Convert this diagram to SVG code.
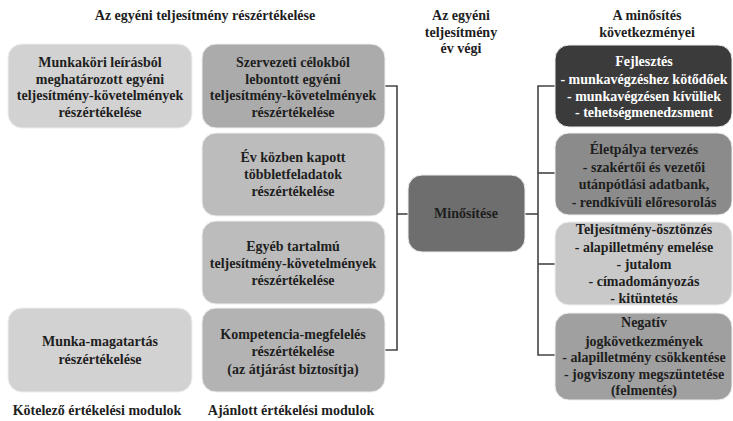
<svg xmlns="http://www.w3.org/2000/svg" width="733" height="421" viewBox="0 0 733 421">
<style>
text{font-family:"Liberation Serif","Times New Roman",serif;font-weight:bold;font-size:14px;text-anchor:middle;fill:#1e1e1e}
.w{fill:#ffffff}
.box{stroke:#efefef;stroke-width:1}
.conn{fill:none;stroke:#444;stroke-width:1.6}
</style>
<rect width="733" height="421" fill="#ffffff"/>
<g id="headers">
<text x="205" y="20">Az egyéni teljesítmény részértékelése</text>
<text x="461" y="20">Az egyéni</text>
<text x="461" y="37">teljesítmény</text>
<text x="461" y="53">év végi</text>
<text x="647" y="20">A minősítés</text>
<text x="647" y="37">következményei</text>
<text x="97" y="415">Kötelező értékelési modulok</text>
<text x="291" y="415">Ajánlott értékelési modulok</text>
</g>
<g id="connectors">
<path class="conn" d="M385,86 H397 V350 H385"/>
<path class="conn" d="M397,214 H408"/>
<path class="conn" d="M525,214 H538"/>
<path class="conn" d="M555,86 H538 V355 H555"/>
<path class="conn" d="M538,173 H555"/>
<path class="conn" d="M538,264 H555"/>
</g>
<g id="n-munkakori">
<rect class="box" x="8" y="44" width="184" height="84" rx="14" fill="#d2d2d2"/>
<text x="100" y="67">Munkaköri leírásból</text>
<text x="100" y="84">meghatározott egyéni</text>
<text x="100" y="100">teljesítmény-követelmények</text>
<text x="100" y="117">részértékelése</text>
</g>
<g id="n-munkamagatartas">
<rect class="box" x="8" y="308" width="184" height="84" rx="14" fill="#d2d2d2"/>
<text x="100" y="346">Munka-magatartás</text>
<text x="100" y="364">részértékelése</text>
</g>
<g id="n-szervezeti">
<rect class="box" x="202" y="44" width="183" height="84" rx="14" fill="#ababab"/>
<text x="293" y="67">Szervezeti célokból</text>
<text x="293" y="84">lebontott egyéni</text>
<text x="293" y="100">teljesítmény-követelmények</text>
<text x="293" y="117">részértékelése</text>
</g>
<g id="n-evkozben">
<rect class="box" x="202" y="133" width="183" height="83" rx="14" fill="#bcbcbc"/>
<text x="293" y="162">Év közben kapott</text>
<text x="293" y="179">többletfeladatok</text>
<text x="293" y="196">részértékelése</text>
</g>
<g id="n-egyeb">
<rect class="box" x="202" y="221" width="183" height="83" rx="14" fill="#bcbcbc"/>
<text x="293" y="251">Egyéb tartalmú</text>
<text x="293" y="268">teljesítmény-követelmények</text>
<text x="293" y="285">részértékelése</text>
</g>
<g id="n-kompetencia">
<rect class="box" x="202" y="308" width="183" height="84" rx="14" fill="#b3b3b3"/>
<text x="293" y="339">Kompetencia-megfelelés</text>
<text x="293" y="356">részértékelése</text>
<text x="293" y="374">(az átjárást biztosítja)</text>
</g>
<g id="n-minositese">
<rect class="box" x="408" y="175" width="117" height="77" rx="14" fill="#6e6e6e"/>
<text x="466" y="218">Minősítése</text>
</g>
<g id="n-fejlesztes">
<rect class="box" x="555" y="45" width="177" height="82" rx="14" fill="#3b3b3b"/>
<text class="w" x="644" y="66">Fejlesztés</text>
<text class="w" x="644" y="84">- munkavégzéshez kötődőek</text>
<text class="w" x="644" y="101">- munkavégzésen kívüliek</text>
<text class="w" x="644" y="117">- tehetségmenedzsment</text>
</g>
<g id="n-eletpalya">
<rect class="box" x="555" y="133" width="177" height="82" rx="14" fill="#8b8b8b"/>
<text x="644" y="154">Életpálya tervezés</text>
<text x="644" y="172">- szakértői és vezetői</text>
<text x="644" y="189">utánpótlási adatbank,</text>
<text x="644" y="207">- rendkívüli előresorolás</text>
</g>
<g id="n-teljesitmeny">
<rect class="box" x="555" y="222" width="177" height="83" rx="14" fill="#c9c9c9"/>
<text x="644" y="234">Teljesítmény-ösztönzés</text>
<text x="644" y="252">- alapilletmény emelése</text>
<text x="644" y="269">- jutalom</text>
<text x="644" y="286">- címadományozás</text>
<text x="644" y="303">- kitüntetés</text>
</g>
<g id="n-negativ">
<rect class="box" x="555" y="313" width="177" height="87" rx="14" fill="#a0a0a0"/>
<text x="644" y="327">Negatív</text>
<text x="644" y="346">jogkövetkezmények</text>
<text x="644" y="362">- alapilletmény csökkentése</text>
<text x="644" y="379">- jogviszony megszüntetése</text>
<text x="644" y="395">(felmentés)</text>
</g>
</svg>
